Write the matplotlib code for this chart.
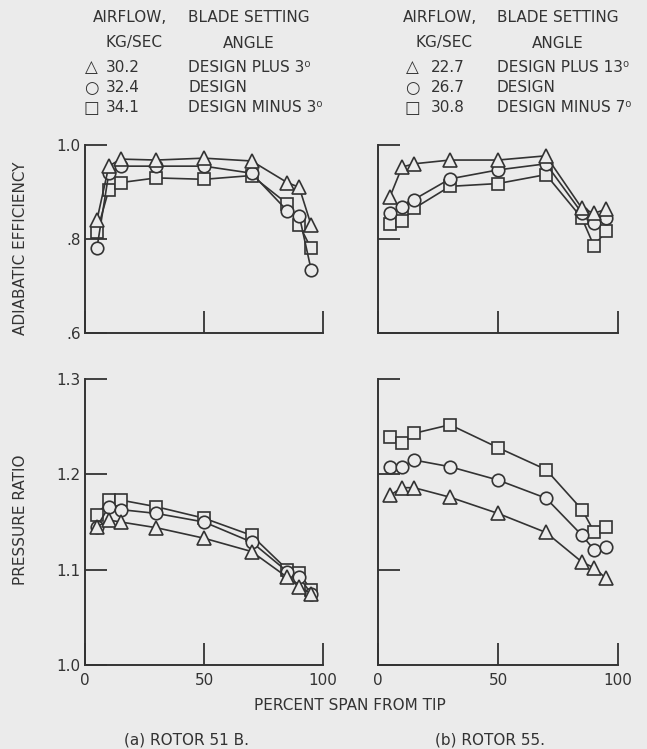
import numpy as np
import matplotlib
matplotlib.use('Agg')
import matplotlib.pyplot as plt

plt.rcParams['font.family'] = ['DejaVu Sans']

W, H = 647, 749
bg = '#ebebeb'
ink = '#333333'

# percent span from tip (survey stations)
span = [5, 10, 15, 30, 50, 70, 85, 90, 95]

# rotor 51B, adiabatic efficiency
eff51_tri = [0.84, 0.955, 0.97, 0.968, 0.972, 0.966, 0.92, 0.91, 0.83]
eff51_circ = [0.78, 0.94, 0.955, 0.955, 0.955, 0.94, 0.86, 0.85, 0.735]
eff51_sq = [0.815, 0.905, 0.92, 0.93, 0.927, 0.935, 0.875, 0.83, 0.78]

# rotor 55, adiabatic efficiency
eff55_tri = [0.89, 0.953, 0.96, 0.968, 0.968, 0.977, 0.865, 0.855, 0.863]
eff55_circ = [0.855, 0.869, 0.884, 0.928, 0.947, 0.96, 0.855, 0.834, 0.844]
eff55_sq = [0.832, 0.838, 0.865, 0.912, 0.918, 0.937, 0.844, 0.785, 0.817]

# rotor 51B, pressure ratio
pr51_tri = [1.145, 1.152, 1.150, 1.144, 1.133, 1.119, 1.092, 1.082, 1.075]
pr51_circ = [1.145, 1.166, 1.163, 1.159, 1.150, 1.129, 1.098, 1.092, 1.075]
pr51_sq = [1.157, 1.173, 1.173, 1.166, 1.154, 1.136, 1.100, 1.096, 1.079]

# rotor 55, pressure ratio
pr55_tri = [1.178, 1.186, 1.186, 1.176, 1.159, 1.139, 1.108, 1.102, 1.091]
pr55_circ = [1.208, 1.208, 1.215, 1.208, 1.194, 1.175, 1.136, 1.121, 1.124]
pr55_sq = [1.239, 1.233, 1.243, 1.252, 1.228, 1.205, 1.163, 1.140, 1.145]

legend51 = [('30.2', 'DESIGN PLUS 3⁰'), ('32.4', 'DESIGN'), ('34.1', 'DESIGN MINUS 3⁰')]
legend55 = [('22.7', 'DESIGN PLUS 13⁰'), ('26.7', 'DESIGN'), ('30.8', 'DESIGN MINUS 7⁰')]

eff_ticks = [0.6, 0.8, 1.0]
eff_labels = ['.6', '.8', '1.0']
pr_ticks = [1.0, 1.1, 1.2, 1.3]
pr_labels = ['1.0', '1.1', '1.2', '1.3']
x_ticks = [0, 50, 100]
x_labels = ['0', '50', '100']


def px(x, y):
	# figure pixel -> figure fraction
	return x / W, 1 - y / H


def series(ax, tri, circ, sq):
	style = dict(color=ink, lw=1.2, mec=ink, mfc=bg, mew=1.2)
	ax.plot(span, sq, marker='s', ms=8, **style)
	ax.plot(span, circ, marker='o', ms=9, **style)
	ax.plot(span, tri, marker='^', ms=9.5, **style)


def setup(ax, ylim, yticks, ylabels, show_x, show_y):
	ax.set_facecolor(bg)
	ax.set_xlim(0, 100)
	ax.set_ylim(*ylim)
	for s in ['top', 'right']:
		ax.spines[s].set_visible(False)
	for s in ['left', 'bottom']:
		ax.spines[s].set_linewidth(1.4)
		ax.spines[s].set_color(ink)
	ax.set_xticks(x_ticks)
	ax.set_yticks(yticks)
	ax.set_xticklabels(x_labels if show_x else [])
	ax.set_yticklabels(ylabels if show_y else [])
	ax.tick_params(direction='in', length=16, width=1.3, color=ink, labelcolor=ink, labelsize=11)
	ax.tick_params(axis='x', pad=6)
	ax.tick_params(axis='y', pad=3)


def legend(x_mark, x_num, x_desc, x_air, x_kg, x_angle, rows):
	kw = dict(color=ink, fontsize=11, va='center')
	fig.text(*px(x_air, 18), 'AIRFLOW,', ha='center', **kw)
	fig.text(*px(x_kg, 43), 'KG/SEC', ha='center', **kw)
	fig.text(*px(x_desc, 18), 'BLADE SETTING', ha='left', **kw)
	fig.text(*px(x_angle, 43), 'ANGLE', ha='center', **kw)
	for (num, desc), mark, y in zip(rows, ['△', '○', '□'], [67, 88, 108]):
		fig.text(*px(x_mark, y), mark, ha='center', color=ink, fontsize=12, va='center')
		fig.text(*px(x_num, y), num, ha='left', **kw)
		fig.text(*px(x_desc, y), desc, ha='left', **kw)


fig = plt.figure(figsize=(W / 100, H / 100), dpi=100, facecolor=bg)

ax_tl = fig.add_axes([85 / W, 1 - 333 / H, 238 / W, 188 / H])
ax_tr = fig.add_axes([378 / W, 1 - 333 / H, 240 / W, 188 / H])
ax_bl = fig.add_axes([85 / W, 1 - 665 / H, 238 / W, 286 / H])
ax_br = fig.add_axes([378 / W, 1 - 665 / H, 240 / W, 286 / H])

setup(ax_tl, (0.6, 1.0), eff_ticks, eff_labels, False, True)
setup(ax_tr, (0.6, 1.0), eff_ticks, eff_labels, False, False)
setup(ax_bl, (1.0, 1.3), pr_ticks, pr_labels, True, True)
setup(ax_br, (1.0, 1.3), pr_ticks, pr_labels, True, False)

series(ax_tl, eff51_tri, eff51_circ, eff51_sq)
series(ax_tr, eff55_tri, eff55_circ, eff55_sq)
series(ax_bl, pr51_tri, pr51_circ, pr51_sq)
series(ax_br, pr55_tri, pr55_circ, pr55_sq)

legend(91, 106, 188, 130, 134, 249, legend51)
legend(412, 431, 497, 440, 444, 558, legend55)

fig.text(*px(21, 248), 'ADIABATIC EFFICIENCY', rotation=90, ha='center', va='center', color=ink, fontsize=11)
fig.text(*px(21, 520), 'PRESSURE RATIO', rotation=90, ha='center', va='center', color=ink, fontsize=11)
fig.text(*px(350, 706), 'PERCENT SPAN FROM TIP', ha='center', va='center', color=ink, fontsize=11)
fig.text(*px(186, 740), '(a) ROTOR 51 B.', ha='center', va='center', color=ink, fontsize=11)
fig.text(*px(490, 740), '(b) ROTOR 55.', ha='center', va='center', color=ink, fontsize=11)

fig.savefig('out.png', dpi=100, facecolor=bg)
